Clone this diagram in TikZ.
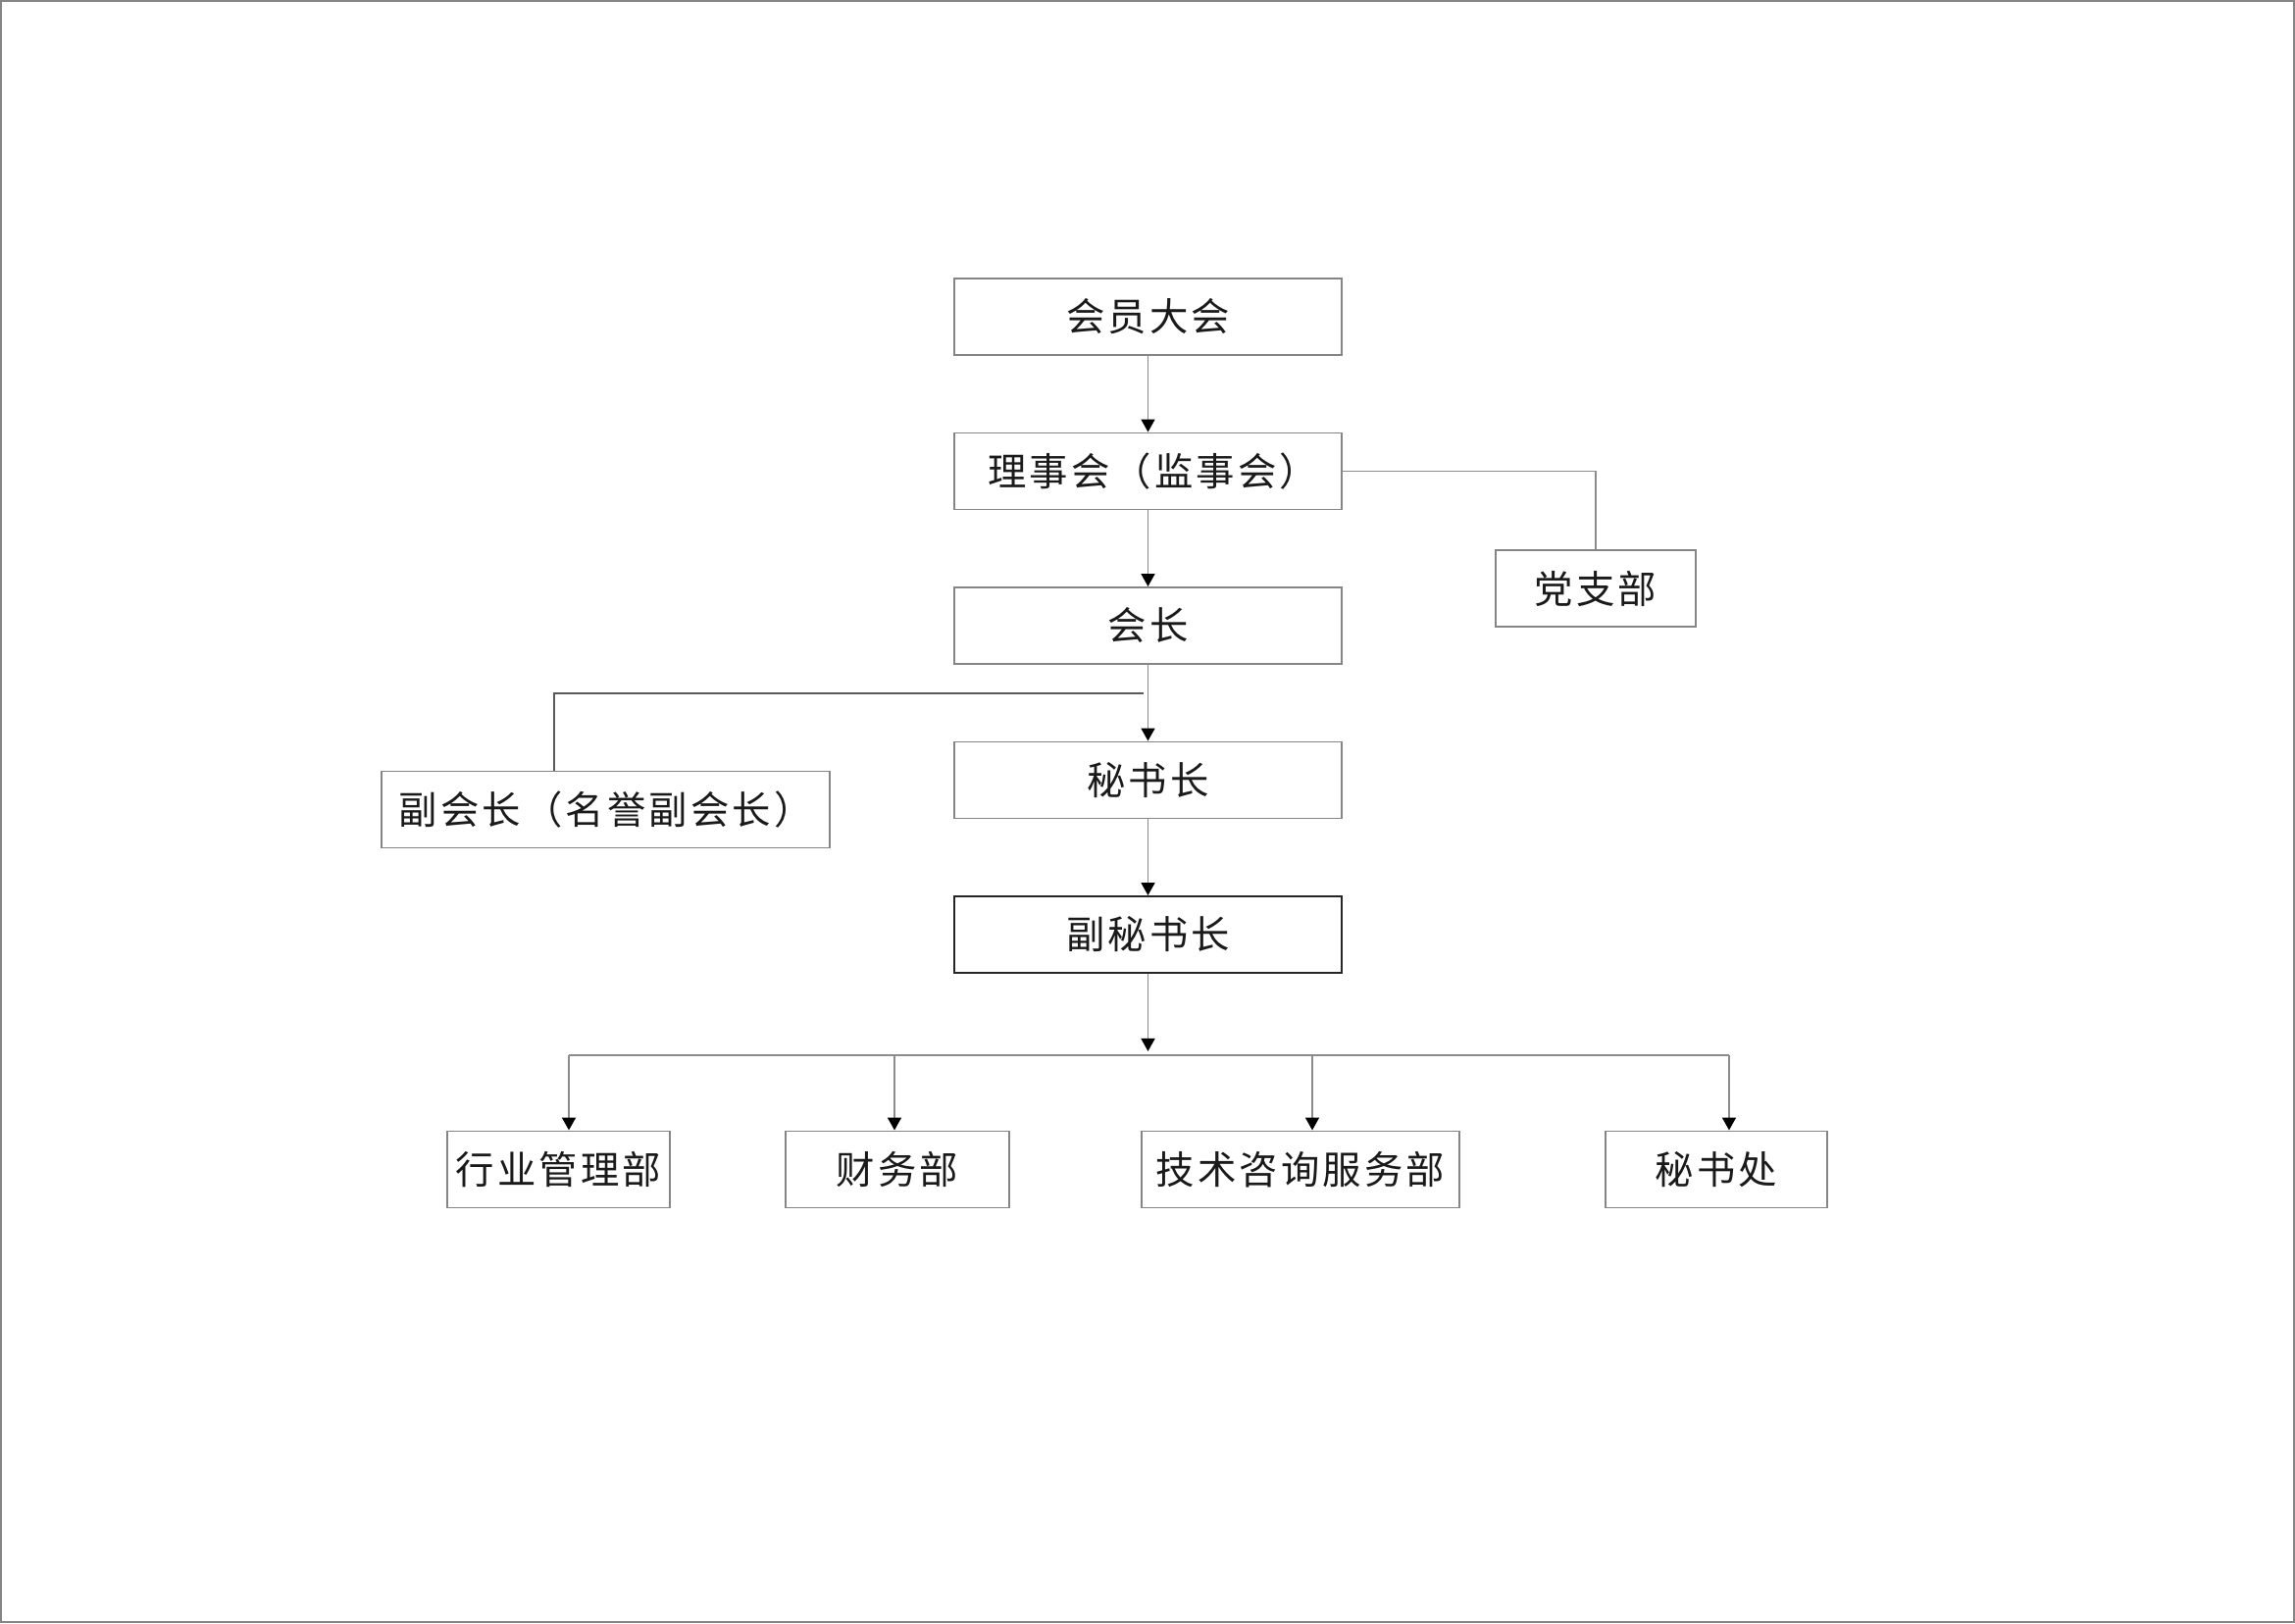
\documentclass[tikz,border=0pt]{standalone}
\usepackage{fontspec}
\newfontfamily\cjk[LetterSpace=8]{Noto Sans CJK SC}
\usetikzlibrary{arrows.meta}
\definecolor{boxgray}{HTML}{858585}
\definecolor{linegray}{HTML}{8C8C8C}
\definecolor{txt}{HTML}{1A1A1A}
\tikzset{
  orgbox/.style={draw=boxgray, line width=0.55pt, inner sep=0pt, minimum height=0.78cm,
    text=txt, font=\cjk\fontsize{11.2pt}{13pt}\selectfont},
  keybox/.style={orgbox, draw=black!85},
  conn/.style={draw=linegray, line width=0.5pt},
  thinconn/.style={draw=black!65, line width=0.35pt},
  arr/.style={conn, -{Triangle[length=0.13cm,width=0.14cm,color=black,fill=black]}}
}
\begin{document}
\begin{tikzpicture}[x=1cm,y=1cm]
% page frame
\fill[white] (0,0) rectangle (23.40,16.55);
\draw[boxgray, line width=0.6pt] (0.01,0.01) rectangle (23.39,16.54);
\useasboundingbox (0,0) rectangle (23.40,16.55);

% main column
\node[orgbox, minimum width=3.95cm] (A) at (11.705,13.32) {会员大会};
\node[orgbox, minimum width=3.95cm] (B) at (11.705,11.745) {\hspace*{0.1cm}理事会（监事会）};
\node[orgbox, minimum width=3.95cm] (C) at (11.705,10.17) {会长};
\node[orgbox, minimum width=3.95cm] (D) at (11.705,8.595) {秘书长};
\node[keybox, minimum width=3.95cm] (E) at (11.705,7.02) {副秘书长};

% side boxes
\node[orgbox, minimum width=2.04cm] (P) at (16.27,10.55) {党支部};
\node[orgbox, minimum width=4.57cm] (V) at (6.175,8.295) {副会长（名誉副会长）};

% bottom row
\node[orgbox, minimum width=2.27cm] (H1) at (5.695,4.625) {行业管理部};
\node[orgbox, minimum width=2.28cm] (H2) at (9.15,4.625) {财务部};
\node[orgbox, minimum width=3.24cm] (H3) at (13.26,4.625) {技术咨询服务部};
\node[orgbox, minimum width=2.26cm] (H4) at (17.50,4.625) {秘书处};

% vertical chain
\draw[arr] (A) -- (B);
\draw[arr] (B) -- (C);
\draw[arr] (C) -- (D);
\draw[arr] (D) -- (E);

% party branch
\draw[conn] (B.east) -| (P.north);

% vice-president branch
\coordinate (vb) at (11.66,9.48);
\coordinate (vl) at (5.65,9.48);
\draw[thinconn] (vb) -- (vl) -- (vl |- V.north);

% bus to departments
\coordinate (bus) at (11.705,5.79);
\coordinate (d1) at (5.80,5.79);
\coordinate (d2) at (9.12,5.79);
\coordinate (d3) at (13.38,5.79);
\coordinate (d4) at (17.63,5.79);
\draw[arr] (E.south) -- ([yshift=0.04cm]bus);
\draw[conn] (d1) -- (d4);
\draw[arr] (d1) -- (d1 |- H1.north);
\draw[arr] (d2) -- (d2 |- H2.north);
\draw[arr] (d3) -- (d3 |- H3.north);
\draw[arr] (d4) -- (d4 |- H4.north);
\end{tikzpicture}
\end{document}
